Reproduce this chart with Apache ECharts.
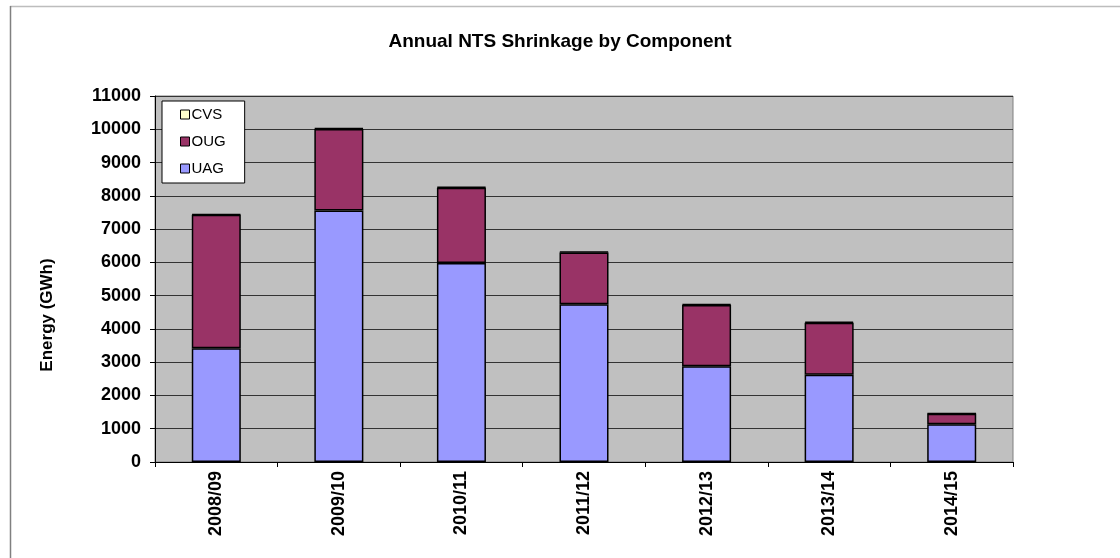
<!DOCTYPE html>
<html>
<head>
<meta charset="utf-8">
<script src="https://cdn.jsdelivr.net/npm/echarts@6/dist/echarts.min.js"></script>
<style>
html,body{margin:0;padding:0;background:#fff;}
#c{width:1120px;height:558px;}
</style>
</head>
<body>
<div id="c"></div>
<script>
const categories = ['2008/09','2009/10','2010/11','2011/12','2012/13','2013/14','2014/15'];
const uag = [3415, 7560, 5980, 4740, 2880, 2620, 1135];
const oug = [4015, 2450, 2265, 1560, 1840, 1565, 315];
const cvs = [20, 20, 20, 20, 20, 30, 10];
const yTicks = [0,1000,2000,3000,4000,5000,6000,7000,8000,9000,10000,11000];

const font = '"Liberation Sans", Arial, sans-serif';
const chart = echarts.init(document.getElementById('c'));
const barBorder = {borderColor:'#000', borderWidth:1.5};
chart.setOption({
  backgroundColor:'#fff',
  animation:false,
  title:{
    text:'Annual NTS Shrinkage by Component',
    left:'center', top:27,
    textStyle:{fontFamily:font, fontSize:19, fontWeight:'bold', color:'#000'}
  },
  graphic:[
    {type:'line', shape:{x1:10,y1:6.5,x2:1120,y2:6.5}, style:{stroke:'#bdbdbd', lineWidth:1.5}},
    {type:'line', shape:{x1:10.5,y1:6,x2:10.5,y2:558}, style:{stroke:'#808080', lineWidth:1.5}},
    {type:'text', x:47, y:315, rotation:Math.PI/2,
     style:{text:'Energy (GWh)', fontFamily:font, fontSize:17, fontWeight:'bold', fill:'#000',
            textAlign:'center', textVerticalAlign:'middle'}}
  ],
  legend:{
    data:['CVS','OUG','UAG'],
    orient:'vertical',
    left:162, top:101,
    padding:[6,19,7,18],
    itemGap:12,
    itemWidth:9, itemHeight:9,
    icon:'rect',
    backgroundColor:'#fff',
    borderColor:'#000', borderWidth:1,
    itemStyle:{borderColor:'#000', borderWidth:1},
    textStyle:{fontFamily:font, fontSize:15, color:'#000', lineHeight:15, padding:[0,0,0,-3]}
  },
  grid:{
    left:155, right:107, top:96, bottom:96,
    show:true, backgroundColor:'#c0c0c0', borderColor:'#808080', borderWidth:1
  },
  xAxis:{
    type:'category',
    data:categories,
    axisLine:{lineStyle:{color:'#000', width:1}},
    axisTick:{show:true, alignWithLabel:false, length:5, lineStyle:{color:'#000'}},
    axisLabel:{rotate:90, margin:9, fontFamily:font, fontSize:18, fontWeight:'bold', color:'#000'}
  },
  yAxis:{
    type:'value',
    min:yTicks[0], max:yTicks[yTicks.length-1], interval:1000,
    axisLine:{show:true, lineStyle:{color:'#000', width:1}},
    axisTick:{show:true, inside:false, length:5, lineStyle:{color:'#000'}},
    axisLabel:{margin:14, fontFamily:font, fontSize:18, fontWeight:'bold', color:'#000',
               formatter:function(v){return String(v);}},
    splitLine:{show:true, lineStyle:{color:'#333', width:1}}
  },
  series:[
    {name:'UAG', type:'bar', stack:'s', data:uag, barWidth:'40%', itemStyle:Object.assign({color:'#9999ff'}, barBorder)},
    {name:'OUG', type:'bar', stack:'s', data:oug, barWidth:'40%', itemStyle:Object.assign({color:'#993366'}, barBorder)},
    {name:'CVS', type:'bar', stack:'s', data:cvs, barWidth:'40%', itemStyle:Object.assign({color:'#ffffcc'}, barBorder)}
  ]
});
</script>
</body>
</html>
